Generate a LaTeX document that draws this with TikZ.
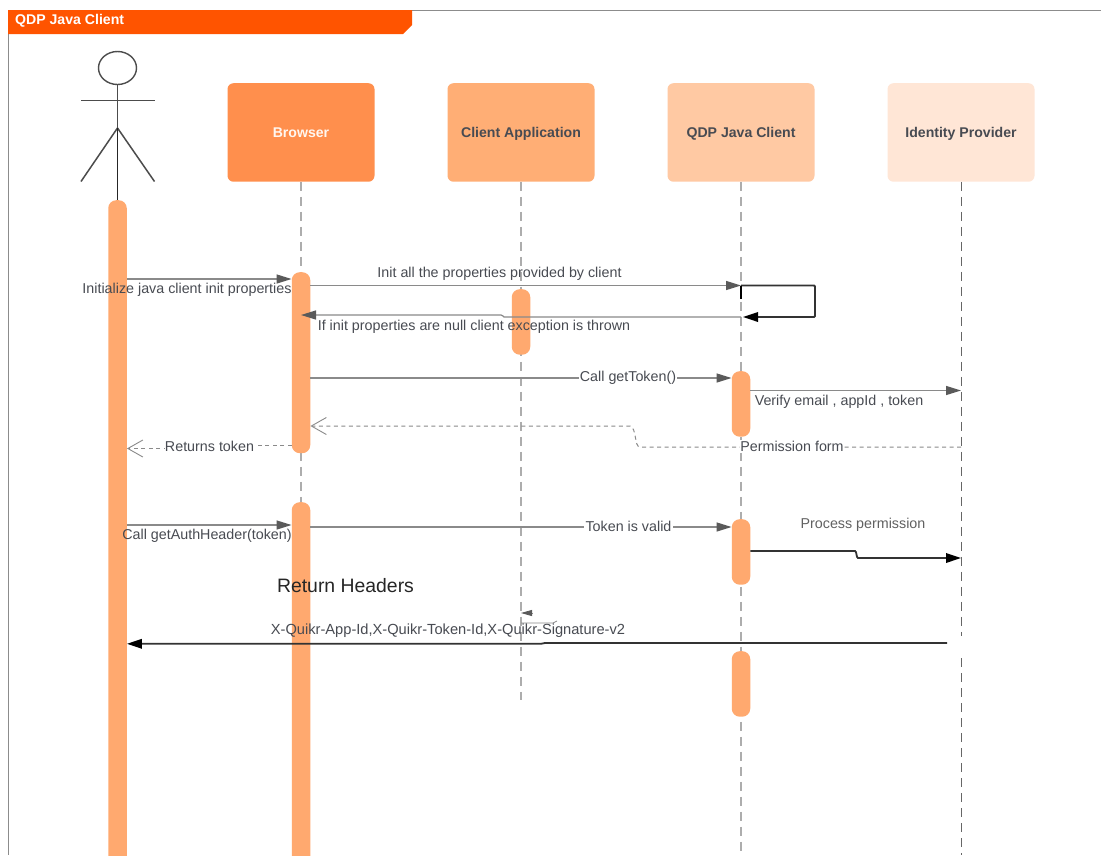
\documentclass[tikz,border=0pt]{standalone}
\usepackage{fontspec}
\setmainfont{Liberation Sans}
\usetikzlibrary{arrows.meta,shapes.geometric}
\definecolor{barc}{HTML}{FFA96F}
\definecolor{titlec}{HTML}{FF5400}
\definecolor{txt}{HTML}{484B52}
\definecolor{ln}{HTML}{8A8A8A}
\definecolor{tipc}{HTML}{5A5A5A}
\tikzset{
  box/.style={draw=none,rounded corners=6pt,minimum width=147pt,minimum height=98.5pt,inner sep=0pt,anchor=north,font=\bfseries\fontsize{14.1}{16}\selectfont,text=txt,text height=11pt,text depth=0pt},
  actbar/.style={fill=barc,draw=none,rounded corners=8pt,minimum width=18.5pt,inner sep=0pt,anchor=north},
  life/.style={draw=#1,line width=1.3pt,dash pattern=on 9pt off 6pt},
  life/.default={ln!70},
  idpline/.style={draw=black!60,line width=1pt,dash pattern=on 9pt off 6pt},
  msg/.style={draw=ln,line width=1.3pt,-{Triangle[length=15pt,width=9pt,fill=tipc,color=tipc]}},
  strong/.style={draw=black!80,line width=1.8pt,-{Triangle[length=15pt,width=9.5pt,fill=black,color=black]}},
  reply/.style={draw=ln,line width=1pt,dash pattern=on 4pt off 3.5pt,-{Straight Barb[length=15pt,width=17pt,color=ln,line width=.9pt]}},
  lbl/.style={font=\fontsize{14.3}{16}\selectfont,text=txt,inner sep=0pt,yshift=-1.4pt},
  wlbl/.style={lbl,fill=white,inner xsep=2pt,inner ysep=1pt},
  stick/.style={draw=black!70,line width=1.5pt},
}
\begin{document}
\begin{tikzpicture}[x=1pt,y=-1pt]
\clip (0,0) rectangle (1101,855);
\fill[white] (0,0) rectangle (1101,855);
% frame
\coordinate (frameTL) at (8,10);
\coordinate (frameTR) at (1101,10);
\coordinate (frameBL) at (8,855);
\draw[draw=black!45,line width=1pt] (frameTR) -- (frameTL) -- (frameBL);
\fill[titlec] (8,10) -- (412,10) -- (412,25) -- (403,34) -- (8,34) -- cycle;
\node[anchor=west,inner sep=0pt,text=white,font=\bfseries\fontsize{14.1}{16}\selectfont] (title) at (15,21.2) {QDP Java Client};
% actor
\node[draw=black!70,line width=1.4pt,ellipse,minimum width=38pt,minimum height=33pt,inner sep=0pt] (head) at (117.5,68) {};
\coordinate (hip) at (117.5,128);
\coordinate (armL) at (81,100.5);
\coordinate (armR) at (154.5,100.5);
\coordinate (legL) at (81,181.5);
\coordinate (legR) at (154.5,181.5);
\draw[stick] (head.south) -- (hip);
\draw[stick] (armL) -- (armR);
\draw[stick] (legL) -- (hip) -- (legR);
% lifeline heads
\node[box,fill={rgb,255:red,255;green,143;blue,77},text=white!94!orange] (browser) at (301,83) {Browser};
\node[box,fill={rgb,255:red,255;green,174;blue,117}] (app) at (521,83) {Client Application};
\node[box,fill={rgb,255:red,255;green,201;blue,163}] (qdp) at (741,83) {QDP Java Client};
\node[box,fill={rgb,255:red,255;green,230;blue,214}] (idp) at (961,83) {Identity Provider};
% lifeline ends
\coordinate (browserEnd) at (301,855);
\coordinate (appEnd) at (521,700);
\coordinate (qdpEnd) at (741,855);
\coordinate (idpGapA) at (961,636);
\coordinate (idpGapB) at (961,658);
\coordinate (idpEnd) at (961,855);
\draw[life] (browser.south) -- (browserEnd);
\draw[life] (app.south) -- (appEnd);
\draw[life] (qdp.south) -- (qdpEnd);
\draw[idpline] (idp.south) -- (idpGapA);
\draw[idpline] (idpGapB) -- (idpEnd);
% activation bars
\draw[draw=black!85,line width=1.4pt] (117.5,128) -- (117.5,200);
\node[actbar,minimum height=680pt] (aB) at (117.5,200) {};
\node[actbar,minimum height=181pt] (bA) at (301,272) {};
\node[actbar,minimum height=380pt] (bB) at (301,502) {};
\node[actbar,minimum height=65.5pt] (cA) at (521,289) {};
\node[actbar,minimum height=65.5pt] (qA) at (741,371) {};
\node[actbar,minimum height=65.5pt] (qB) at (741,519) {};
\node[actbar,minimum height=65.5pt] (qC) at (741,651) {};
% messages
\draw[msg] (aB.east |- 0,279) -- (bA.west |- 0,279);
\node[lbl] (m1) at (187,288) {Initialize java client init properties};
\draw[msg] (bA.east |- 0,285.5) -- (qdp.south |- 0,285.5);
\node[lbl] (m2) at (499.5,272.5) {Init all the properties provided by client};
% self call
\coordinate (selfA) at (815,285.5);
\coordinate (selfB) at (815,317);
\draw[draw=black!80,line width=1.8pt,rounded corners=1pt,-{Triangle[length=15pt,width=9.5pt,fill=black,color=black]}] (qdp.south |- 0,285.5) -- (selfA) -- (selfB) -- (743,317);
\draw[draw=black,line width=1.1pt] (qdp.south |- 0,285.5) -- (qdp.south |- 0,299);
% null exception
\coordinate (stepN) at (503,316);
\draw[msg] (qdp.south |- 0,317) -- (504,317) -- (stepN) -- (501,315) -- (bA.center |- 0,315);
\node[lbl] (m3) at (474,325.5) {If init properties are null client exception is thrown};
% getToken
\draw[msg] (bA.east |- 0,378) -- (qA.west |- 0,378);
\node[wlbl,inner xsep=1pt] (m4) at (628,376.5) {Call getToken()};
% verify
\draw[msg] (qA.east |- 0,390.5) -- (idp.south |- 0,390.5);
\node[lbl] (m5) at (839,400) {Verify email , appId , token};
% permission form
\coordinate (permA) at (640,447);
\coordinate (permB) at (630,426);
\draw[reply] (idp.south |- 0,447) -- (permA) .. controls (634,447) and (637,428) .. (permB) -- (bA.east |- 0,426);
\node[wlbl,inner xsep=0pt] (m6) at (792,445) {Permission form};
% returns token
\coordinate (retA) at (209,445);
\coordinate (retB) at (209,448.5);
\draw[reply] (bA.west |- 0,445) -- (retA) -- (retB) -- (aB.east |- 0,448.5);
\node[wlbl,inner xsep=0pt] (m7) at (209.5,444.5) {Returns token};
% getAuthHeader
\draw[msg] (aB.east |- 0,525) -- (bB.west |- 0,525);
\node[lbl] (m8) at (207,534.5) {Call getAuthHeader(token)};
% token valid
\draw[msg] (bB.east |- 0,527) -- (qB.west |- 0,527);
\node[wlbl] (m9) at (628.5,525) {Token is valid};
% process permission
\coordinate (stepA) at (855,551);
\coordinate (stepB) at (858,558);
\draw[strong] (qB.east |- 0,551) -- (stepA) to[out=0,in=180,looseness=.6] (stepB) -- (idp.south |- 0,558);
\node[lbl,text=black!62] (m10) at (863,523) {Process permission};
% return headers
\node[inner sep=0pt,text=black!85,font=\fontsize{19.4}{22}\selectfont] (m11) at (345.5,586) {Return Headers};
% stray small connector
\coordinate (tinyA) at (533,613);
\draw[draw=ln,line width=.8pt,-{Triangle[length=11pt,width=6pt,fill=tipc,color=tipc]}] (tinyA) -- (app.south |- 0,613);
\coordinate (tinyB) at (553,623);
\coordinate (tinyC) at (557,621);
\draw[draw=ln,line width=.8pt] (app.south |- 0,623) -- (tinyB) -- (tinyC);
% headers return
\coordinate (hdrStart) at (947,643);
\coordinate (hdrStepA) at (545,643);
\coordinate (hdrStepB) at (541,643.8);
\draw[strong] (hdrStart) -- (hdrStepA) -- (hdrStepB) -- (aB.east |- 0,643.8);
\node[lbl,font=\fontsize{14.65}{16}\selectfont] (m12) at (448,629) {X-Quikr-App-Id,X-Quikr-Token-Id,X-Quikr-Signature-v2};
\end{tikzpicture}
\end{document}
